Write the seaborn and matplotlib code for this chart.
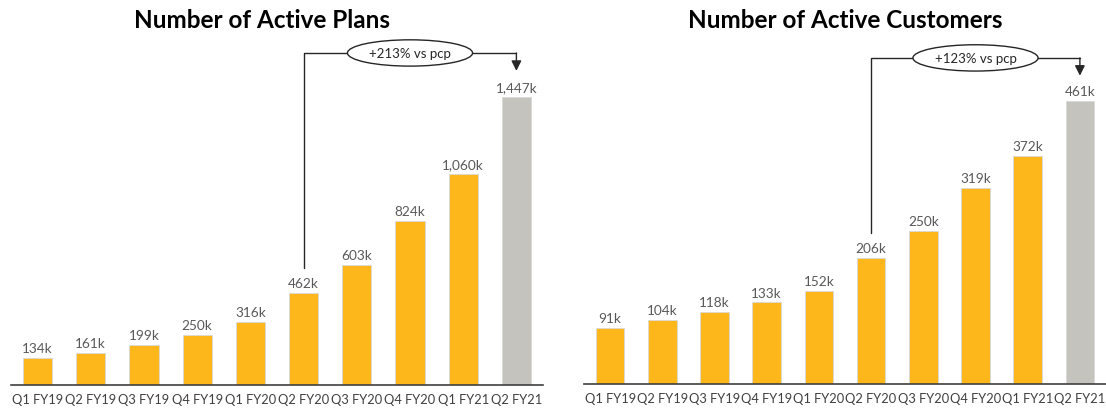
import matplotlib
matplotlib.use("Agg")
import matplotlib.pyplot as plt
import seaborn as sns

quarters = ["Q1 FY19", "Q2 FY19", "Q3 FY19", "Q4 FY19", "Q1 FY20",
            "Q2 FY20", "Q3 FY20", "Q4 FY20", "Q1 FY21", "Q2 FY21"]
plans = [134, 161, 199, 250, 316, 462, 603, 824, 1060, 1447]
customers = [91, 104, 118, 133, 152, 206, 250, 319, 372, 461]
plans_growth = "+213% vs pcp"
customers_growth = "+123% vs pcp"

ORANGE = "#FDB71B"
GREY = "#C5C3BE"
colors = [ORANGE] * 9 + [GREY]

sns.set_theme(style="white")
plt.rcParams["font.family"] = ["Lato", "DejaVu Sans"]

W, H = 1106, 410
fig = plt.figure(figsize=(W / 100, H / 100), dpi=100)


def px_axes(x0, x1, ybase, ytop):
    return fig.add_axes([x0 / W, (H - ybase) / H, (x1 - x0) / W, (ybase - ytop) / H])


def panel(ax, values, ymax, growth, base_idx, line_y, arrow_y, ell_x):
    sns.barplot(x=quarters, y=values, hue=quarters, palette=colors, legend=False,
                width=0.55, saturation=1, edgecolor="#d9d9d9", linewidth=0.6, ax=ax)
    ax.set_xlim(-0.5, len(quarters) - 0.5)
    ax.set_ylim(0, ymax)
    ax.set_xlabel("")
    ax.set_ylabel("")
    ax.set_yticks([])
    for s in ["left", "right", "top"]:
        ax.spines[s].set_visible(False)
    ax.spines["bottom"].set_color("#404040")
    ax.spines["bottom"].set_linewidth(1.2)
    ax.tick_params(axis="x", length=0, pad=6, labelsize=9.3, labelcolor="#404040")
    for i, v in enumerate(values):
        ax.text(i, v + ymax * 0.012, f"{v:,}k", ha="center", va="bottom",
                fontsize=9.8, color="#595959")
    last = len(values) - 1
    # connector from above the base-period label to the latest bar
    start = values[base_idx] + ymax * 0.075
    ax.plot([base_idx, base_idx, last], [start, line_y, line_y],
            color="#262626", lw=1.0, clip_on=False)
    ax.annotate("", xy=(last, arrow_y), xytext=(last, line_y),
                arrowprops=dict(arrowstyle="-|>,head_width=0.25,head_length=0.5",
                                color="#262626", lw=1.0, shrinkA=0, shrinkB=0),
                annotation_clip=False)
    ax.text(ell_x, line_y, growth, ha="center", va="center", fontsize=9.5,
            color="#262626",
            bbox=dict(boxstyle="ellipse,pad=0.25", fc="white", ec="#262626", lw=1.0),
            clip_on=False)


ax1 = px_axes(11, 543, 386, 48)
panel(ax1, plans, 1700, plans_growth, 5, 1670, 1580, 7.0)

ax2 = px_axes(584, 1106, 385, 54)
panel(ax2, customers, 540, customers_growth, 5, 532, 503, 7.0)

for t, cx in [("Number of Active Plans", 262), ("Number of Active Customers", 845)]:
    fig.text(cx / W, 1 - 21 / H, t, ha="center", va="center", fontsize=17.5,
             fontweight="bold", color="black")

fig.savefig("out.png", dpi=100, facecolor="white")
